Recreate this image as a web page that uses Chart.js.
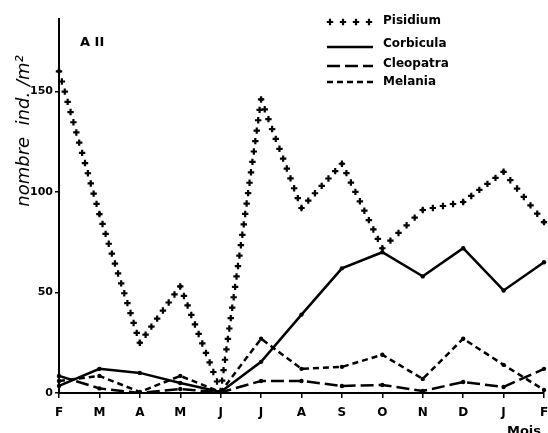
<!DOCTYPE html>
<html>
<head>
<meta charset="utf-8">
<script src="https://cdn.jsdelivr.net/npm/chart.js@4.4.0/dist/chart.umd.min.js"></script>
<style>
  html, body { margin: 0; padding: 0; background: #fff; }
</style>
</head>
<body>
<canvas id="chart" width="548" height="433"></canvas>
<script>
// months Feb -> Feb
const months = ['F', 'M', 'A', 'M', 'J', 'J', 'A', 'S', 'O', 'N', 'D', 'J', 'F'];
const pisidium = [160, 89, 25, 53, 1, 146, 92, 114, 72, 91, 95, 110, 85];
const corbicula = [3.5, 12, 10, 5, 0.5, 15.5, 39, 62, 70, 58, 72, 51, 65];
const cleopatra = [8.5, 2.3, 0, 2, 0.3, 6, 6, 3.5, 4, 1, 5.5, 3, 12];
const melania = [6, 8.5, 0.5, 8.5, 0.5, 27, 12, 13, 19, 7, 27, 14, 1.5];
const yTicks = [0, 50, 100, 150];
const yMax = 186;

const FONT = 'DejaVu Sans';

function plus(ctx, x, y, r) {
  ctx.beginPath();
  ctx.moveTo(x - r, y); ctx.lineTo(x + r, y);
  ctx.moveTo(x, y - r); ctx.lineTo(x, y + r);
  ctx.stroke();
}

// draws the "++++" line style along the dataset points
const crossLine = {
  id: 'crossLine',
  afterDatasetsDraw(chart) {
    const ctx = chart.ctx;
    chart.data.datasets.forEach((ds, i) => {
      if (!ds.crossLine) return;
      const pts = chart.getDatasetMeta(i).data;
      ctx.save();
      ctx.strokeStyle = '#000';
      ctx.lineWidth = 2.2;
      for (let k = 0; k < pts.length - 1; k++) {
        const a = pts[k], b = pts[k + 1];
        const dx = b.x - a.x, dy = b.y - a.y;
        const len = Math.hypot(dx, dy);
        const n = Math.max(1, Math.round(len / 10.5));
        for (let j = 0; j < n; j++) {
          plus(ctx, a.x + dx * j / n, a.y + dy * j / n, 3.2);
        }
      }
      const last = pts[pts.length - 1];
      plus(ctx, last.x, last.y, 3.2);
      ctx.restore();
    });
  }
};

// legend in the upper right, plus the free texts
const extras = {
  id: 'extras',
  afterDraw(chart) {
    const ctx = chart.ctx;
    const rows = [21, 44, 64, 82];
    const lineY = [22, 47, 66, 82];
    ctx.save();
    ctx.fillStyle = '#000';
    ctx.strokeStyle = '#000';
    chart.data.datasets.forEach((ds, i) => {
      const y = lineY[i];
      if (ds.crossLine) {
        ctx.lineWidth = 2.2;
        for (let x = 330; x <= 370; x += 13) plus(ctx, x, y, 3.2);
      } else {
        ctx.lineWidth = 2.5;
        ctx.setLineDash(ds.borderDash || []);
        ctx.beginPath();
        ctx.moveTo(327, y); ctx.lineTo(373, y);
        ctx.stroke();
        ctx.setLineDash([]);
      }
      ctx.font = 'bold 12px ' + FONT;
      ctx.textBaseline = 'middle';
      ctx.textAlign = 'left';
      ctx.fillText(ds.label, 383, rows[i]);
    });

    ctx.font = 'bold 13px ' + FONT;
    ctx.textBaseline = 'middle';
    ctx.fillText('A II', 80, 43);

    ctx.textBaseline = 'top';
    ctx.fillText('Mois', 507, 425);

    ctx.translate(24, 131);
    ctx.rotate(-Math.PI / 2);
    ctx.font = 'italic 18px ' + FONT;
    ctx.textAlign = 'center';
    ctx.textBaseline = 'middle';
    ctx.fillText('nombre  ind. /m²', 0, 0);
    ctx.restore();
  }
};

const line = (label, data, dash) => ({
  label: label,
  data: data,
  borderColor: '#000',
  backgroundColor: '#000',
  borderWidth: 2.5,
  borderDash: dash,
  pointRadius: 2.2,
  pointBackgroundColor: '#000',
  pointBorderWidth: 0,
  tension: 0
});

const pis = line('Pisidium', pisidium, []);
pis.showLine = false;
pis.crossLine = true;
pis.pointRadius = 2;

new Chart(document.getElementById('chart'), {
  type: 'line',
  data: {
    labels: months,
    datasets: [
      pis,
      line('Corbicula', corbicula, []),
      line('Cleopatra', cleopatra, [13, 5]),
      line('Melania', melania, [6, 4])
    ]
  },
  options: {
    responsive: false,
    animation: false,
    devicePixelRatio: 1,
    layout: { padding: { top: 19, right: 1, left: 0, bottom: 0 } },
    plugins: {
      legend: { display: false },
      tooltip: { enabled: false }
    },
    scales: {
      x: {
        offset: false,
        grid: { drawOnChartArea: false, tickLength: 5, color: '#000', lineWidth: 1.5 },
        border: { display: true, color: '#000', width: 2 },
        ticks: {
          color: '#000', font: { family: FONT, size: 12, weight: 'bold' },
          padding: 8, maxRotation: 0, autoSkip: false
        },
        afterFit: s => { s.height = 40; s.paddingLeft = 0; s.paddingRight = 0; }
      },
      y: {
        min: 0,
        max: yMax,
        grid: { drawOnChartArea: false, tickLength: 4, color: '#000', lineWidth: 1.5 },
        border: { display: true, color: '#000', width: 2 },
        ticks: {
          stepSize: 50, color: '#000',
          font: { family: FONT, size: 11, weight: 'bold' }, padding: 2
        },
        afterBuildTicks: s => { s.ticks = yTicks.map(v => ({ value: v })); },
        afterFit: s => { s.width = 59; s.paddingTop = 0; s.paddingBottom = 0; }
      }
    }
  },
  plugins: [crossLine, extras]
});
</script>
</body>
</html>
